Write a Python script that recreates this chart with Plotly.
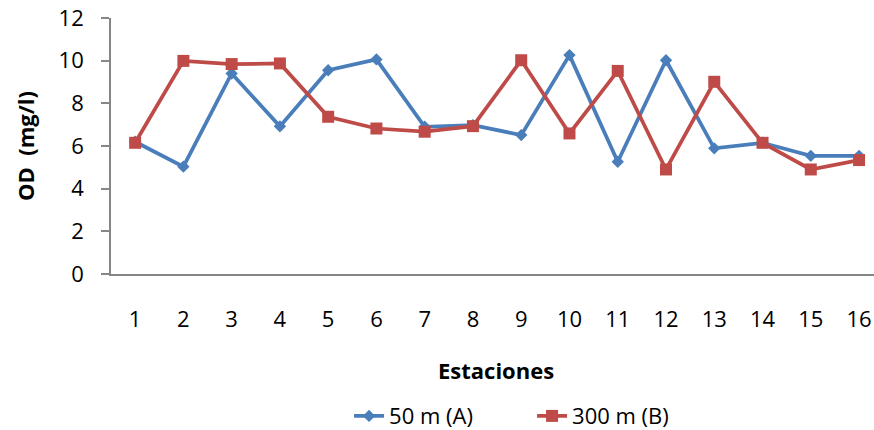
import plotly.graph_objects as go

estaciones = list(range(1, 17))
od_50m_a = [6.2, 5.03, 9.4, 6.92, 9.55, 10.06, 6.9, 6.98, 6.51, 10.26, 5.26, 10.02, 5.89, 6.15, 5.54, 5.54]
od_300m_b = [6.15, 9.99, 9.84, 9.87, 7.37, 6.82, 6.67, 6.93, 10.02, 6.59, 9.52, 4.9, 9.01, 6.15, 4.9, 5.34]
y_ticks = [0, 2, 4, 6, 8, 10, 12]

FONT = "Open Sans"
FS = 22

fig = go.Figure()
fig.add_trace(go.Scatter(
    x=estaciones, y=od_50m_a, name="50 m (A)", mode="lines+markers",
    line=dict(color="#4A7EBB", width=3.75),
    marker=dict(symbol="diamond", size=9.5, color="#4A7EBB"),
))
fig.add_trace(go.Scatter(
    x=estaciones, y=od_300m_b, name="300 m (B)", mode="lines+markers",
    line=dict(color="#BE4B48", width=3.75),
    marker=dict(symbol="square", size=12, color="#BE4B48"),
))

fig.update_layout(
    width=874, height=430,
    margin=dict(l=111, r=0, t=18, b=156, autoexpand=False),
    paper_bgcolor="white", plot_bgcolor="white",
    font=dict(family=FONT, size=FS, color="#000000"),
    showlegend=True,
    legend=dict(orientation="h", x=0.312, xanchor="left", y=-0.555, yanchor="middle",
                font=dict(family=FONT, size=FS), entrywidth=138, entrywidthmode="pixels",
                bgcolor="rgba(0,0,0,0)", borderwidth=0),
    xaxis=dict(
        range=[0.5, 16.31], tickmode="array", tickvals=estaciones,
        ticktext=[str(v) for v in estaciones],
        showline=True, linecolor="#868686", linewidth=1.75,
        showgrid=False, zeroline=False, ticks="", ticklabelstandoff=25,
        ticklabeloverflow="allow",
        tickfont=dict(family=FONT, size=FS),
    ),
    yaxis=dict(
        range=[0, 12], tickvals=y_ticks,
        showline=True, linecolor="#868686", linewidth=1.75,
        showgrid=False, zeroline=False, ticks="outside", ticklen=8,
        tickcolor="#868686", tickwidth=1.5, ticklabelstandoff=13,
        ticklabeloverflow="allow",
        tickfont=dict(family=FONT, size=FS),
    ),
    annotations=[
        dict(text="<b>Estaciones</b>", xref="paper", yref="paper", x=0.505, y=-0.375,
             xanchor="center", yanchor="middle", showarrow=False,
             font=dict(family=FONT, size=FS)),
        dict(text="<b>OD\u00a0 (mg/l)</b>", xref="paper", yref="paper", x=-0.1127, y=0.5,
             xanchor="center", yanchor="middle", textangle=-90, showarrow=False,
             font=dict(family=FONT, size=FS)),
    ],
)

fig.write_html(
    "out.html",
    config={"displayModeBar": False},
    post_script="document.body.style.margin='0';document.body.style.overflow='hidden';",
)
